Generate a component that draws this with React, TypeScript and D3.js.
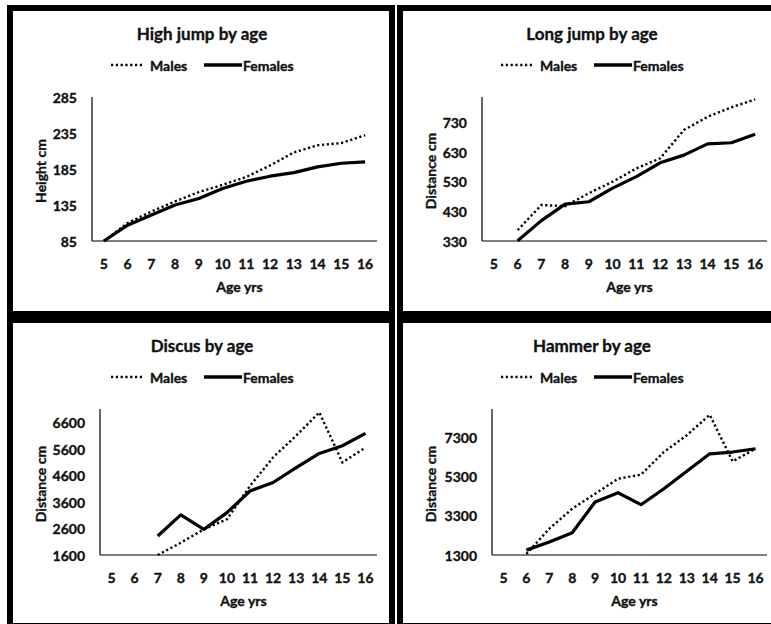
import React from "react";
import * as d3 from "d3";

const AGES = ["5", "6", "7", "8", "9", "10", "11", "12", "13", "14", "15", "16"];

const highJumpMales = [85, 110, 126, 140, 153, 163, 174, 190, 208, 218, 221, 232];
const highJumpFemales = [85, 107, 121, 135, 144, 158, 168, 175, 180, 188, 193, 195];
const highJumpTicks = [85, 135, 185, 235, 285];

const longJumpMales = [null, 367, 452, 448, 492, 531, 576, 610, 706, 751, 783, 810];
const longJumpFemales = [null, 331, 399, 455, 463, 509, 548, 595, 621, 659, 663, 692];
const longJumpTicks = [330, 430, 530, 630, 730];

const discusMales = [null, null, 1600, 2065, 2570, 2950, 4210, 5290, 6110, 6990, 5100, 5660];
const discusFemales = [null, null, 2320, 3115, 2570, 3200, 4020, 4340, 4900, 5440, 5730, 6200];
const discusTicks = [1600, 2600, 3600, 4600, 5600, 6600];

const hammerMales = [null, 1350, 2650, 3670, 4440, 5210, 5420, 6580, 7440, 8490, 6100, 6750];
const hammerFemales = [null, 1550, 1970, 2440, 4020, 4490, 3880, 4700, 5590, 6490, 6580, 6750];
const hammerTicks = [1300, 3300, 5300, 7300];

const TITLES = ["High jump by age", "Long jump by age", "Discus by age", "Hammer by age"];
const Y_TITLES = ["Height cm", "Distance cm", "Distance cm", "Distance cm"];
const Y_MAX = [285, 818, 7118, 8787];
const X_TITLE = "Age yrs";
const LEGEND = ["Males", "Females"];

const FONT = "Lato, 'Open Sans', sans-serif";
const TXT = {
  fontFamily: FONT,
  fontWeight: "bold" as const,
  fill: "#111",
  stroke: "#111",
  strokeWidth: 0.35,
};

type PanelProps = {
  ox: number;
  oy: number;
  title: string;
  yTitle: string;
  males: (number | null)[];
  females: (number | null)[];
  ticks: number[];
  yMax: number;
  plotLeft: number;
  plotBottom: number;
};

function Panel(p: PanelProps) {
  const left = p.plotLeft;
  const right = 370;
  const top = 92;
  const bottom = p.plotBottom;
  const x = d3.scaleBand<string>().domain(AGES).range([left, right]);
  const y = d3.scaleLinear().domain([p.ticks[0], p.yMax]).range([bottom, top]);
  const cx = (a: string) => (x(a) as number) + x.bandwidth() / 2;
  const line = d3
    .line<number | null>()
    .defined((d) => d !== null)
    .x((_, i) => cx(AGES[i]))
    .y((d) => y(d as number));
  return (
    <g transform={`translate(${p.ox},${p.oy})`}>
      <rect x={3} y={3} width={382} height={306} fill="#fff" stroke="#000" strokeWidth={6} />
      <text x={195} y={28} textAnchor="middle" dominantBaseline="central" fontSize={17} {...TXT}>
        {p.title}
      </text>
      {/* legend */}
      <line x1={104} x2={136} y1={60} y2={60} stroke="#000" strokeWidth={2.4} strokeDasharray="2.2 2.6" />
      <text x={143} y={60} dominantBaseline="central" fontSize={14} {...TXT}>
        {LEGEND[0]}
      </text>
      <line x1={197} x2={235} y1={60} y2={60} stroke="#000" strokeWidth={3.5} />
      <text x={236} y={60} dominantBaseline="central" fontSize={14} {...TXT}>
        {LEGEND[1]}
      </text>
      {/* axes */}
      <line x1={left} x2={left} y1={top} y2={bottom} stroke="#000" strokeWidth={1.2} />
      <line x1={left} x2={right} y1={bottom} y2={bottom} stroke="#000" strokeWidth={1.2} />
      {p.ticks.map((t) => (
        <text key={t} x={left - 15} y={y(t)} textAnchor="end" dominantBaseline="central" fontSize={14} {...TXT}>
          {t}
        </text>
      ))}
      {AGES.map((a) => (
        <text key={a} x={cx(a)} y={bottom + 22} textAnchor="middle" dominantBaseline="central" fontSize={14} {...TXT}>
          {a}
        </text>
      ))}
      <text x={(left + right) / 2 + 5} y={bottom + 45} textAnchor="middle" dominantBaseline="central" fontSize={14} {...TXT}>
        {X_TITLE}
      </text>
      <text transform={`translate(33,${(top + bottom) / 2 + 2}) rotate(-90)`} textAnchor="middle" dominantBaseline="central" fontSize={14} {...TXT}>
        {p.yTitle}
      </text>
      {/* series */}
      <path d={line(p.males) || ""} fill="none" stroke="#000" strokeWidth={2.4} strokeDasharray="2.2 2.6" />
      <path d={line(p.females) || ""} fill="none" stroke="#000" strokeWidth={3.2} strokeLinejoin="round" />
    </g>
  );
}

export default function App() {
  return (
    <svg width={771} height={624} style={{ position: "absolute", left: 0, top: 0, background: "#fff" }}>
      <rect x={0} y={0} width={771} height={624} fill="#fff" />
      <Panel ox={7} oy={5} title={TITLES[0]} yTitle={Y_TITLES[0]} males={highJumpMales} females={highJumpFemales} ticks={highJumpTicks} yMax={Y_MAX[0]} plotLeft={85} plotBottom={236} />
      <Panel ox={397} oy={5} title={TITLES[1]} yTitle={Y_TITLES[1]} males={longJumpMales} females={longJumpFemales} ticks={longJumpTicks} yMax={Y_MAX[1]} plotLeft={85} plotBottom={236} />
      <Panel ox={7} oy={317} title={TITLES[2]} yTitle={Y_TITLES[2]} males={discusMales} females={discusFemales} ticks={discusTicks} yMax={Y_MAX[2]} plotLeft={93} plotBottom={238} />
      <Panel ox={397} oy={317} title={TITLES[3]} yTitle={Y_TITLES[3]} males={hammerMales} females={hammerFemales} ticks={hammerTicks} yMax={Y_MAX[3]} plotLeft={95} plotBottom={238} />
    </svg>
  );
}
